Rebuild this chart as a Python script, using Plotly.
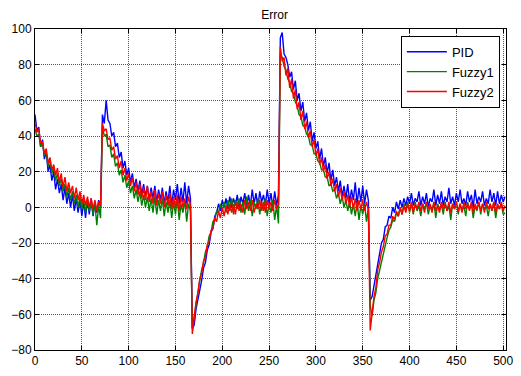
import plotly.graph_objects as go

# time axis (samples every 2 units)
time = list(range(0, 503, 2))

# PID error
pid_a = [52, 43, 45, 34, 38, 27, 31, 20, 24, 15, 20, 10, 16, 8, 13, 4, 11, 2, 8, 0, 7, -2, 5, -3, 4, -5, 3, -6, 4, -4, 5, -5, 3, -3, 4, 0]
pid_b = [52, 47, 60, 49, 47, 40, 42, 34, 36, 28, 31, 22, 26, 18, 22, 14, 19, 11, 16, 9, 15, 7, 13, 6, 12, 4, 11, 5, 12, 3, 10, 4, 11, 2, 9, 3, 12, 1, 10, 4, 13, 2, 11, 3, 14, 2, 12, 5]
pid_c = [-68, -66, -57, -52, -45, -41, -34, -31, -24, -21, -14, -12, -5, -3, 2, -2, 4, 0, 5, -1, 6, 0, 5, 1, 7, -1, 6, 2, 8, 0, 7, 1, 10, 2, 8, 0, 9, 3, 7, 1, 10, 2, 8, 0, 9, 1, 7]
pid_d = [95, 98, 86, 84, 80, 73, 76, 66, 71, 60, 64, 54, 59, 48, 53, 43, 48, 37, 42, 33, 37, 27, 33, 23, 28, 19, 25, 15, 21, 12, 17, 9, 15, 6, 12, 5, 13, 3, 10, 4, 14, 2, 11, 3, 12, 2, 10, 4]
pid_e = [-52, -50, -44, -38, -31, -27, -20, -18, -11, -10, -5, -6, 0, -3, 3, -1, 4, 0, 5, 1, 6, 2, 8, 1, 5, 3, 9, 1, 6, 2, 8, 0, 5, 3, 10, 1, 7, 2, 9, 1, 6, 3, 11, 2, 6, 1, 8, 3, 10, 2, 5, 1, 9, 3, 7, 0, 10, 2, 6, 3, 9, 1, 5, 2, 10, 3, 8, 1, 9, 2, 7, 3, 6]

# Fuzzy1 error
fz1_a = [44, 40, 41, 34, 36, 29, 31, 23, 27, 19, 23, 15, 19, 12, 16, 9, 13, 6, 11, 4, 9, 2, 7, 0, 6, -1, 5, -3, 4, -2, 3, -4, 2, -10, 1, -6]
fz1_b = [45, 40, 41, 34, 35, 28, 30, 23, 25, 18, 21, 14, 18, 11, 15, 8, 12, 5, 10, 3, 9, 1, 7, 0, 6, -2, 5, -3, 6, -4, 4, -2, 5, -5, 3, -3, 4, -6, 3, -4, 5, -7, 2, -3, 4, -8, 2, -2]
fz1_c = [-68, -61, -54, -46, -41, -35, -31, -25, -22, -16, -14, -8, -7, -2, -3, 2, -2, 3, -3, 4, -2, 5, -4, 4, -1, 5, -3, 3, -4, 6, -2, 4, -5, 3, -1, 5, -4, 3, -2, 5, -5, 2, -3, 4, -7, 1, -9]
fz1_d = [86, 84, 79, 77, 72, 70, 65, 64, 59, 57, 52, 51, 46, 45, 41, 40, 35, 35, 30, 30, 26, 25, 21, 21, 17, 17, 12, 13, 9, 10, 5, 8, 2, 6, 0, 4, -2, 3, -4, 2, -5, 3, -7, 1, -4, 2, -8, 0]
fz1_e = [-55, -61, -52, -48, -40, -35, -30, -25, -20, -17, -13, -11, -7, -8, -3, -5, 0, -4, 2, -2, 3, -3, 2, -4, 3, -2, 1, -5, 2, -1, 3, -4, 1, -2, 3, -6, 2, -1, 2, -4, 3, -2, 1, -7, 2, -1, 3, -4, 2, -2, 1, -5, 3, -1, 2, -6, 1, -2, 3, -4, 2, -1, 1, -5, 2, -2, 3, -6, 1, -1, 2, -4, -3]

# Fuzzy2 error
fz2_a = [48, 42, 44, 36, 37, 30, 33, 25, 28, 21, 24, 18, 22, 14, 19, 11, 17, 9, 14, 8, 12, 5, 11, 4, 9, 2, 7, 1, 6, 0, 5, -1, 4, -2, 3, 1]
fz2_b = [47, 43, 44, 38, 39, 32, 34, 27, 29, 22, 26, 18, 22, 15, 19, 12, 17, 9, 14, 7, 13, 5, 11, 4, 12, 3, 9, 2, 10, 1, 8, 2, 9, 0, 7, 1, 8, -1, 6, 0, 7, -2, 6, 0, 5, -1, 6, 1]
fz2_c = [-71, -62, -53, -48, -40, -37, -30, -28, -21, -19, -13, -12, -6, -8, -2, -6, 0, -5, 1, -4, 2, -3, 2, -4, 3, -2, 2, -3, 4, -1, 3, -2, 4, -3, 2, -1, 4, -2, 3, -3, 4, -1, 3, -2, 4, -1, 2]
fz2_d = [90, 82, 84, 74, 78, 67, 72, 61, 66, 55, 59, 49, 54, 44, 48, 39, 43, 34, 38, 29, 33, 24, 28, 20, 24, 16, 20, 12, 16, 9, 13, 6, 11, 4, 9, 2, 7, 0, 6, -1, 5, -2, 4, -1, 4, -2, 3, -1]
fz2_e = [-69, -58, -50, -45, -35, -31, -25, -22, -16, -15, -10, -10, -5, -7, -2, -5, 0, -4, 1, -3, 2, -2, 3, -3, 2, -1, 3, -2, 2, -3, 3, -1, 2, -3, 3, -2, 1, -3, 3, -1, 2, -2, 3, -3, 2, -1, 3, -2, 2, -3, 3, -1, 2, -2, 3, -3, 2, -1, 3, -2, 2, -3, 3, -1, 2, -2, 3, -3, 2, -1, 3, -2, 1]

pid = pid_a + pid_b + pid_c + pid_d + pid_e
fuzzy1 = fz1_a + fz1_b + fz1_c + fz1_d + fz1_e
fuzzy2 = fz2_a + fz2_b + fz2_c + fz2_d + fz2_e

series_names = ["PID", "Fuzzy1", "Fuzzy2"]
series_colors = ["#0000FF", "#008000", "#FF0000"]
x_ticks = [0, 50, 100, 150, 200, 250, 300, 350, 400, 450, 500]
y_ticks = [-80, -60, -40, -20, 0, 20, 40, 60, 80, 100]

fig = go.Figure()
for name, color, ys in zip(series_names, series_colors, [pid, fuzzy1, fuzzy2]):
    fig.add_trace(go.Scatter(x=time, y=ys, mode="lines", name=name,
                             line=dict(color=color, width=1.4)))

font = dict(family="Liberation Sans, Arial, sans-serif", size=12, color="#000000")
axis_common = dict(showline=True, linecolor="#000000", linewidth=1, mirror="ticks",
                   ticks="inside", ticklen=4, tickcolor="#000000",
                   showgrid=True, gridcolor="#555555", griddash="1px,1px", gridwidth=1,
                   zeroline=False, tickfont=font)
fig.update_layout(
    width=521, height=376,
    margin=dict(l=35, r=8, t=29, b=19),
    paper_bgcolor="#FFFFFF", plot_bgcolor="#FFFFFF",
    font=font,
    title=dict(text="Error", x=0.527, xanchor="center", y=0.96, yanchor="middle",
               font=dict(family="Liberation Sans, Arial, sans-serif", size=12)),
    xaxis=dict(range=[0, 503], tickvals=x_ticks, **axis_common),
    yaxis=dict(range=[-80, 100], tickvals=y_ticks, **axis_common),
    legend=dict(x=0.987, xanchor="right", y=0.979, yanchor="top",
                bgcolor="#FFFFFF", bordercolor="#000000", borderwidth=1,
                font=dict(family="Liberation Sans, Arial, sans-serif", size=13),
                tracegroupgap=0, itemwidth=40),
    showlegend=True,
)
fig.write_html("out.html")
